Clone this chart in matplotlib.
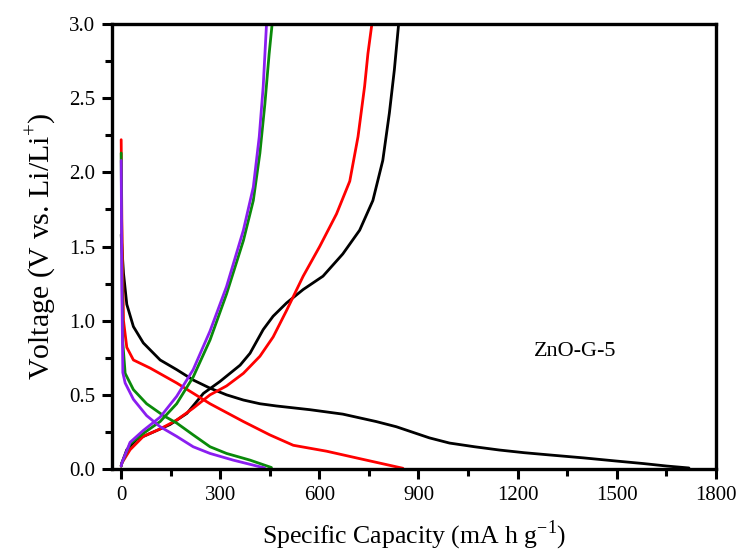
import matplotlib
matplotlib.use("Agg")
import matplotlib.pyplot as plt
from matplotlib.ticker import MultipleLocator, FormatStrFormatter

plt.rcParams['font.family'] = ['Liberation Serif', 'DejaVu Serif']
plt.rcParams['mathtext.fontset'] = 'custom'
plt.rcParams['mathtext.rm'] = 'Liberation Serif'

# first cycle (black)
black_dis_x = [0, 2, 7, 17, 37, 67, 118, 168, 218, 269, 319, 370, 420, 470, 571, 671, 772, 833, 893, 933, 994, 1070, 1145, 1220, 1296, 1400, 1498, 1580, 1652, 1719]
black_dis_y = [1.58, 1.50, 1.32, 1.11, 0.96, 0.85, 0.735, 0.67, 0.60, 0.545, 0.50, 0.465, 0.44, 0.425, 0.40, 0.37, 0.32, 0.285, 0.24, 0.21, 0.175, 0.15, 0.128, 0.11, 0.095, 0.075, 0.054, 0.037, 0.02, 0.007]
black_chg_x = [0, 2, 17, 47, 98, 148, 199, 249, 299, 360, 390, 430, 460, 501, 551, 611, 671, 722, 762, 792, 812, 827, 840]
black_chg_y = [0.02, 0.04, 0.13, 0.20, 0.25, 0.30, 0.375, 0.51, 0.59, 0.70, 0.78, 0.94, 1.03, 1.12, 1.21, 1.30, 1.45, 1.61, 1.81, 2.08, 2.40, 2.69, 3.0]

# second cycle (red)
red_dis_x = [0, 2, 7, 17, 37, 88, 168, 269, 370, 450, 521, 622, 722, 853]
red_dis_y = [2.22, 1.68, 1.00, 0.82, 0.735, 0.68, 0.58, 0.44, 0.32, 0.23, 0.16, 0.12, 0.07, 0.005]
red_chg_x = [0, 2, 27, 67, 118, 168, 218, 269, 319, 370, 420, 460, 501, 551, 601, 652, 692, 717, 737, 747, 759]
red_chg_y = [0.02, 0.04, 0.13, 0.22, 0.27, 0.33, 0.41, 0.50, 0.56, 0.645, 0.76, 0.89, 1.07, 1.30, 1.50, 1.72, 1.94, 2.24, 2.58, 2.80, 3.0]

# third cycle (green)
green_dis_x = [0, 2, 5, 12, 37, 77, 128, 168, 218, 269, 319, 390, 455]
green_dis_y = [2.13, 1.45, 0.85, 0.645, 0.535, 0.44, 0.36, 0.31, 0.23, 0.15, 0.105, 0.06, 0.01]
green_chg_x = [0, 2, 27, 67, 118, 168, 218, 269, 319, 370, 400, 420, 435, 448, 457]
green_chg_y = [0.02, 0.04, 0.17, 0.24, 0.32, 0.44, 0.62, 0.87, 1.18, 1.54, 1.81, 2.13, 2.46, 2.80, 3.0]

# fifth cycle (purple)
purple_dis_x = [0, 2, 5, 12, 37, 77, 118, 168, 218, 269, 339, 420, 434]
purple_dis_y = [2.08, 1.23, 0.65, 0.58, 0.47, 0.36, 0.285, 0.22, 0.15, 0.105, 0.06, 0.015, 0.008]
purple_chg_x = [0, 2, 27, 67, 118, 168, 218, 269, 319, 370, 400, 418, 430, 440]
purple_chg_y = [0.02, 0.04, 0.18, 0.26, 0.35, 0.49, 0.67, 0.93, 1.23, 1.61, 1.90, 2.24, 2.58, 3.0]

fig = plt.figure(figsize=(7.44, 5.54), dpi=100)
ax = fig.add_axes([0.150, 0.1534, 0.812, 0.8033])

lw = 2.0
series = [
    (black_dis_x, black_dis_y, 'black'), (black_chg_x, black_chg_y, 'black'),
    (red_dis_x, red_dis_y, '#ff0000'), (red_chg_x, red_chg_y, '#ff0000'),
    (green_dis_x, green_dis_y, '#0a8a0a'), (green_chg_x, green_chg_y, '#0a8a0a'),
    (purple_dis_x, purple_dis_y, '#8a1ef0'), (purple_chg_x, purple_chg_y, '#8a1ef0'),
]
for xs, ys, c in series:
    ax.plot(xs, ys, color=c, lw=lw, solid_joinstyle='round', solid_capstyle='round')

ax.set_xlim(-29, 1800)
ax.set_ylim(0, 3.0)
ax.xaxis.set_major_locator(MultipleLocator(300))
ax.xaxis.set_minor_locator(MultipleLocator(150))
ax.yaxis.set_major_locator(MultipleLocator(0.5))
ax.yaxis.set_minor_locator(MultipleLocator(0.25))
ax.yaxis.set_major_formatter(FormatStrFormatter('%.1f'))

for s in ax.spines.values():
    s.set_linewidth(2.4)
ax.tick_params(which='major', direction='out', length=7, width=2.2, labelsize=15, pad=5)
ax.tick_params(which='minor', direction='out', length=5, width=2.2)
ax.tick_params(top=False, right=False, which='both')

ax.set_xlabel('Specific Capacity (mA h g$^{\\mathregular{-1}}$)', fontsize=18.5, labelpad=10)
ax.set_ylabel('Voltage (V vs. Li/Li$^{\\mathregular{+}}$)', fontsize=21.5, labelpad=8)

ax.text(1250, 0.76, 'ZnO-G-5', fontsize=16, va='baseline')

fig.savefig('out.png', dpi=100)
